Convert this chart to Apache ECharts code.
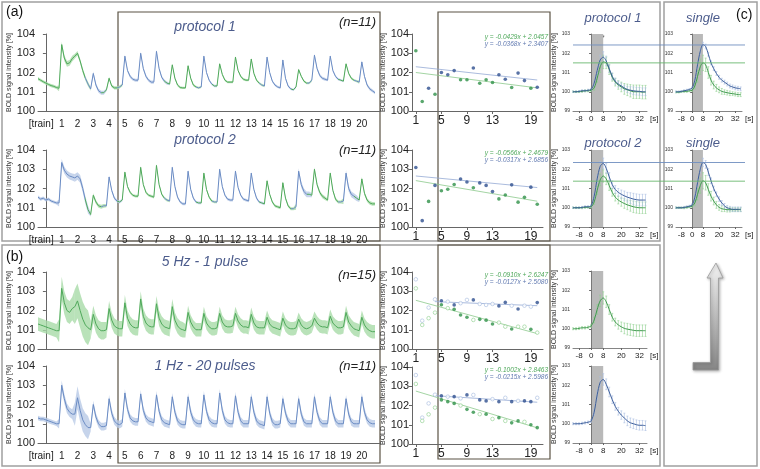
<!DOCTYPE html>
<html><head><meta charset="utf-8">
<script src="https://cdn.jsdelivr.net/npm/echarts@6/dist/echarts.min.js"></script>
<style>html,body{margin:0;padding:0;background:#fff}#c{width:760px;height:469px}</style>
</head><body><div id="c"></div>
<script>
// ---------------- DATA ----------------
const trainLabels = ['[train]','1','2','3','4','5','6','7','8','9','10','11','12','13','14','15','16','17','18','19','20'];
const trainLabelPos = [-0.3,1,2,3,4,5,6,7,8,9,10,11,12,13,14,15,16,17,18,19,20];
// rows: pre-baseline (8 samples), trains 1..20 (6 samples each: pre, peak, decay x4), tail (1 sample); samples every 1/6 train
const p1Mean = [
 [101.68,101.6,101.52,101.45,101.38,101.32,101.28,101.22],
 [101.18,103.45,102.75,102.45,102.5,102.72],
 [102.85,103.0,102.6,102.1,101.7,101.4],
 [101.15,101.95,101.35,101.05,100.95,100.95],
 [101.1,101.7,101.3,101.2,101.2,101.25],
 [101.35,102.85,102.1,101.8,101.65,101.6],
 [101.6,103.0,102.2,101.8,101.6,101.5],
 [101.5,103.1,102.2,101.75,101.55,101.45],
 [101.4,102.4,101.7,101.35,101.22,101.2],
 [101.2,102.35,101.7,101.35,101.25,101.2],
 [101.25,102.85,102.0,101.6,101.4,101.3],
 [101.3,102.45,101.9,101.6,101.5,101.5],
 [101.5,102.8,102.1,101.8,101.65,101.6],
 [101.6,102.7,101.95,101.6,101.45,101.35],
 [101.3,102.8,102.0,101.55,101.35,101.25],
 [101.2,102.65,101.7,101.3,101.15,101.1],
 [101.25,102.15,101.8,101.55,101.45,101.45],
 [101.6,102.9,102.2,101.85,101.7,101.65],
 [101.6,102.85,102.1,101.8,101.65,101.6],
 [101.55,102.45,101.95,101.7,101.6,101.55],
 [101.5,102.55,101.8,101.35,101.15,101.05],
 [100.95]
];
const p1Sem = [0.08,0.15,0.12,0.1,0.08,0.08,0.08,0.08,0.06,0.06,0.06,0.06,0.06,0.06,0.06,0.06,0.06,0.08,0.06,0.06,0.08,0.08];
const p1Colors = ['g','g','g','b','g','b','b','b','g','g','b','g','g','g','b','b','g','b','b','g','b','b'];

const p2Mean = [
 [101.55,101.45,101.5,101.4,101.45,101.35,101.3,101.25],
 [101.25,103.35,102.95,102.75,102.65,102.6],
 [102.55,102.65,102.5,102.0,101.4,100.9],
 [100.65,101.65,101.3,101.1,101.05,101.1],
 [101.1,102.6,101.9,101.5,101.35,101.3],
 [101.4,102.85,102.1,101.8,101.65,101.6],
 [101.6,103.1,102.2,101.8,101.65,101.6],
 [101.55,103.2,102.2,101.7,101.5,101.4],
 [101.35,103.1,102.1,101.55,101.3,101.2],
 [101.2,102.9,101.95,101.5,101.3,101.25],
 [101.25,102.8,101.95,101.55,101.35,101.3],
 [101.3,103.0,102.1,101.65,101.45,101.4],
 [101.4,102.9,102.05,101.65,101.45,101.4],
 [101.35,102.8,101.95,101.5,101.3,101.25],
 [101.2,102.4,101.7,101.3,101.1,101.05],
 [101.0,102.3,101.5,101.1,100.95,100.95],
 [101.05,102.9,102.2,101.85,101.7,101.7],
 [101.65,103.0,102.2,101.8,101.6,101.5],
 [101.4,102.8,101.9,101.45,101.3,101.3],
 [101.35,102.8,102.0,101.7,101.6,101.5],
 [101.4,102.5,101.75,101.4,101.25,101.2],
 [101.2]
];
const p2Sem = [0.08,0.18,0.2,0.1,0.08,0.07,0.07,0.07,0.07,0.07,0.07,0.07,0.07,0.07,0.07,0.08,0.15,0.1,0.08,0.15,0.1,0.08];
const p2Colors = ['b','b','b','g','b','g','g','g','b','b','g','b','b','b','g','g','b','g','g','b','g','g'];

const p3Mean = [
 [101.3,101.25,101.2,101.15,101.1,101.05,101.0,100.95],
 [100.95,103.15,102.4,102.0,101.9,102.1],
 [102.2,102.5,102.0,101.55,101.25,101.1],
 [101.0,101.8,101.3,101.05,100.95,100.95],
 [101.0,102.1,101.5,101.2,101.1,101.05],
 [101.05,102.4,101.6,101.3,101.15,101.1],
 [101.1,102.6,101.7,101.35,101.2,101.15],
 [101.15,102.35,101.6,101.3,101.15,101.1],
 [101.05,102.2,101.5,101.2,101.05,101.0],
 [100.95,101.9,101.4,101.15,101.0,101.0],
 [101.0,101.85,101.35,101.15,101.05,101.05],
 [101.1,101.85,101.4,101.2,101.15,101.15],
 [101.2,101.85,101.45,101.25,101.15,101.15],
 [101.1,101.8,101.35,101.15,101.1,101.1],
 [101.1,101.65,101.3,101.15,101.1,101.05],
 [101.0,101.6,101.25,101.1,101.05,101.05],
 [101.1,101.55,101.25,101.1,101.05,101.1],
 [101.2,101.6,101.35,101.2,101.15,101.15],
 [101.1,101.7,101.35,101.2,101.1,101.1],
 [101.15,101.9,101.4,101.2,101.05,101.0],
 [100.95,101.65,101.25,101.05,100.95,100.9],
 [100.9]
];
const p3Sem = [0.35,0.6,0.9,0.45,0.4,0.4,0.4,0.4,0.4,0.35,0.35,0.35,0.35,0.35,0.35,0.35,0.35,0.35,0.35,0.35,0.35,0.35];
const p3Colors = ['g','g','g','g','g','g','g','g','g','g','g','g','g','g','g','g','g','g','g','g','g','g'];

const p4Mean = [
 [101.3,101.25,101.25,101.2,101.15,101.1,101.05,101.0],
 [101.0,103.0,102.3,101.8,101.6,101.5],
 [101.5,102.35,101.7,101.2,100.95,100.8],
 [100.8,102.0,101.35,101.0,100.85,100.85],
 [100.9,102.3,101.55,101.15,101.0,100.95],
 [101.05,102.6,101.75,101.3,101.15,101.1],
 [101.1,102.55,101.7,101.3,101.15,101.1],
 [101.05,102.5,101.65,101.2,101.05,101.0],
 [100.95,102.4,101.6,101.15,101.0,100.95],
 [100.95,102.4,101.6,101.2,101.05,101.0],
 [101.0,102.5,101.65,101.2,101.05,101.0],
 [101.0,102.6,101.7,101.2,101.05,101.0],
 [101.0,102.45,101.6,101.15,101.0,101.0],
 [101.0,102.4,101.6,101.15,101.0,100.95],
 [100.9,102.4,101.55,101.1,100.95,100.95],
 [101.0,102.3,101.55,101.15,101.0,101.0],
 [101.0,102.3,101.5,101.1,101.0,101.0],
 [101.0,102.4,101.6,101.15,101.0,101.0],
 [101.0,102.4,101.6,101.15,101.0,101.0],
 [101.0,102.3,101.5,101.1,101.0,101.0],
 [101.0,102.4,101.6,101.2,101.05,101.0],
 [101.0]
];
const p4Sem = [0.12,0.25,0.6,0.2,0.2,0.2,0.2,0.2,0.2,0.2,0.2,0.2,0.2,0.2,0.2,0.2,0.2,0.2,0.2,0.2,0.2,0.2];
const p4Colors = ['b','b','b','b','b','b','b','b','b','b','b','b','b','b','b','b','b','b','b','b','b','b'];

// scatter (per train 1..20)
const scX = [1,2,3,4,5,6,7,8,9,10,11,12,13,14,15,16,17,18,19,20];
const scTicks = [1,5,9,13,19];
const s1Vals = [103.13,100.49,101.18,100.87,102.0,101.88,102.1,101.62,101.62,102.23,101.44,101.62,101.48,101.88,101.65,101.22,101.97,101.58,101.18,101.23];
const s1Cols = ['g','g','b','g','b','b','b','g','g','b','g','g','g','b','b','g','b','b','g','b'];
const s2Vals = [103.09,100.33,101.33,102.16,101.88,101.96,102.21,102.49,102.34,102.04,102.29,102.16,101.84,101.46,101.66,102.19,101.29,101.54,102.07,101.18];
const s2Cols = ['b','b','g','b','g','g','g','b','b','g','b','b','b','g','g','b','g','g','b','g'];
const s3Blue  = [103.62,101.47,102.15,102.58,102.51,102.46,102.29,102.38,102.55,102.55,102.34,102.29,102.34,102.24,102.42,102.25,102.08,102.25,102.2,102.41];
const s3BlueF = [0,0,0,0,1,0,1,0,0,1,0,0,0,1,1,0,1,0,0,1];
const s3Green = [103.15,101.25,101.6,101.89,102.3,102.12,102.06,101.77,101.65,101.51,101.54,101.5,101.3,101.37,101.16,101.04,101.16,101.16,101.02,100.85];
const s3GreenF= [0,0,0,0,1,0,1,1,1,0,1,1,1,0,0,1,0,0,1,0];
const s4Blue  = [103.58,101.37,102.11,102.56,102.5,102.46,102.46,102.37,102.55,102.55,102.29,102.24,102.33,102.2,102.4,102.2,102.24,102.24,102.2,102.4];
const s4BlueF = [0,0,0,0,1,0,1,0,1,0,1,1,0,1,0,1,0,1,1,0];
const s4Green = [103.12,101.2,101.54,101.89,102.29,102.2,102.11,102.0,101.8,101.65,101.55,101.55,101.3,101.37,101.2,101.1,101.2,101.15,101.0,100.85];
const s4GreenF= [0,0,0,0,1,1,1,0,1,1,0,1,0,1,0,1,1,0,1,1];
// regression lines: [x, y] endpoints from the printed equations
const s1GreenFit = [[1,102.00],[20,101.20]], s1BlueFit = [[1,102.30],[20,101.61]];
const s2GreenFit = [[1,102.41],[20,101.34]], s2BlueFit = [[1,102.65],[20,102.05]];
const s3GreenFit = [[1,102.53],[20,100.80]], s3BlueFit = [[4,102.46],[20,102.25]];
const s4GreenFit = [[1,102.75],[20,100.84]], s4BlueFit = [[4,102.51],[20,102.17]];
const eqs = [
 ['y = -0.0429x + 2.0457','y = -0.0368x + 2.3407'],
 ['y = -0.0566x + 2.4679','y = -0.0317x + 2.6856'],
 ['y = -0.0910x + 2.6247','y = -0.0127x + 2.5080'],
 ['y = -0.1002x + 2.8463','y = -0.0215x + 2.5986']
];

// block-average time courses [s]
const tcT = [-12,-10,-8,-6,-4,-2,0,2,4,6,8,10,12,14,16,18,20,22,24,26,28,30,32,34,36];
const tcTicks = [-8,0,8,20,32];
const pr1Blue  = [100.0,100.0,100.02,100.05,100.05,100.08,100.12,100.45,101.1,101.65,101.8,101.6,101.2,100.8,100.55,100.4,100.3,100.2,100.12,100.08,100.05,100.03,100.02,100.0,100.0];
const pr1BlueE = [0.04,0.04,0.04,0.05,0.05,0.05,0.06,0.12,0.2,0.25,0.28,0.25,0.2,0.18,0.15,0.15,0.15,0.15,0.16,0.18,0.2,0.2,0.2,0.2,0.2];
const pr1Green = [100.0,100.0,100.0,100.02,100.05,100.05,100.08,100.2,100.7,101.3,101.55,101.5,101.15,100.75,100.5,100.35,100.25,100.15,100.1,100.05,100.0,100.0,100.0,99.98,99.98];
const pr1GreenE= [0.04,0.04,0.04,0.05,0.05,0.05,0.06,0.12,0.2,0.3,0.35,0.3,0.25,0.2,0.2,0.22,0.25,0.28,0.3,0.32,0.35,0.35,0.35,0.35,0.35];
const pr2Blue  = [100.0,100.0,100.0,100.02,100.05,100.05,100.1,100.6,101.5,102.15,102.3,102.05,101.6,101.2,100.95,100.8,100.7,100.62,100.55,100.5,100.45,100.42,100.4,100.4,100.4];
const pr2BlueE = [0.04,0.04,0.04,0.05,0.05,0.05,0.06,0.12,0.2,0.25,0.28,0.25,0.22,0.2,0.2,0.2,0.22,0.25,0.25,0.28,0.3,0.3,0.3,0.3,0.3];
const pr2Green = [100.0,100.0,100.0,100.0,100.02,100.03,100.05,100.3,100.9,101.45,101.65,101.5,101.15,100.8,100.55,100.4,100.3,100.22,100.15,100.1,100.05,100.02,100.0,100.0,100.0];
const pr2GreenE= [0.04,0.04,0.04,0.05,0.05,0.05,0.06,0.12,0.2,0.3,0.32,0.3,0.25,0.2,0.2,0.2,0.22,0.25,0.25,0.28,0.3,0.3,0.3,0.3,0.3];
const sg1Blue  = [100.0,100.0,100.02,100.05,100.08,100.12,100.2,100.6,101.4,102.1,102.45,102.35,101.95,101.5,101.2,100.95,100.75,100.6,100.5,100.4,100.3,100.25,100.2,100.18,100.15];
const sg1BlueE = [0.04,0.04,0.04,0.05,0.05,0.05,0.06,0.1,0.15,0.15,0.12,0.12,0.1,0.1,0.1,0.1,0.1,0.1,0.1,0.1,0.1,0.1,0.1,0.1,0.1];
const sg1Green = [99.98,99.98,100.0,100.02,100.02,100.05,100.08,100.3,100.8,101.3,101.5,101.4,101.0,100.6,100.35,100.2,100.1,100.02,99.98,99.95,99.92,99.9,99.88,99.85,99.85];
const sg1GreenE= [0.04,0.04,0.04,0.05,0.05,0.05,0.06,0.15,0.3,0.4,0.4,0.35,0.3,0.25,0.2,0.18,0.15,0.15,0.12,0.12,0.12,0.1,0.1,0.1,0.1];
const sg2Blue  = [100.0,100.0,100.0,100.02,100.05,100.08,100.15,100.55,101.3,102.0,102.35,102.25,101.85,101.4,101.0,100.7,100.45,100.25,100.1,100.0,99.95,99.92,99.92,99.92,99.92];
const sg2BlueE = [0.04,0.04,0.04,0.05,0.05,0.05,0.06,0.1,0.15,0.2,0.22,0.2,0.18,0.15,0.12,0.12,0.12,0.12,0.12,0.12,0.12,0.12,0.12,0.12,0.12];
const sg2Green = [100.0,100.0,100.0,100.0,100.02,100.05,100.08,100.25,100.7,101.15,101.4,101.3,100.95,100.6,100.35,100.15,100.02,99.95,99.92,99.9,99.9,99.9,99.9,99.9,99.9];
const sg2GreenE= [0.04,0.04,0.04,0.05,0.05,0.05,0.06,0.15,0.3,0.4,0.42,0.38,0.3,0.25,0.2,0.18,0.15,0.15,0.12,0.12,0.12,0.1,0.1,0.1,0.1];
const hz5Green = [100.0,100.0,100.02,100.05,100.05,100.08,100.15,100.45,101.0,101.45,101.6,101.4,101.0,100.6,100.35,100.2,100.1,100.02,99.98,99.95,99.92,99.9,99.9,99.9,99.9];
const hz5GreenE= [0.05,0.05,0.06,0.06,0.06,0.06,0.08,0.15,0.25,0.3,0.32,0.3,0.25,0.2,0.2,0.22,0.25,0.28,0.3,0.3,0.3,0.3,0.3,0.3,0.3];
const hz1Blue  = [100.0,100.0,100.0,100.02,100.05,100.08,100.15,100.6,101.5,102.15,102.3,102.05,101.65,101.25,100.9,100.65,100.45,100.3,100.15,100.05,100.0,99.95,99.92,99.92,99.9];
const hz1BlueE = [0.05,0.05,0.05,0.06,0.06,0.06,0.08,0.15,0.25,0.3,0.3,0.28,0.25,0.2,0.2,0.2,0.22,0.25,0.25,0.25,0.25,0.25,0.25,0.25,0.25];
// horizontal reference levels (peaks of the "single" responses)
const refRow1 = {blue:102.43, green:101.5};
const refRow2 = {blue:102.35, green:101.38};

// ---------------- STYLE ----------------
const GREEN='#4ea85a', BLUE='#6a8bc3';
const GREEN_D='#2f9148', BLUE_D='#2e4f8f';
const GREEN_L='#8fd08f', BLUE_L='#a9bde0';
const GREEN_B='#a8dba8', BLUE_B='#b8c9e6';
const FONT='Liberation Sans, Arial, sans-serif';
const COL = {g:GREEN, b:BLUE}, BAND = {g:GREEN_B, b:BLUE_B};

const grids=[], xAxes=[], yAxes=[], series=[], visualMaps=[], graphics=[];
function addGrid(g){grids.push(g);return grids.length-1;}

// ---- time series plots ----
const tsDefs = [
 {top:34, mean:p1Mean, sem:p1Sem, colors:p1Colors, labels:true},
 {top:150, mean:p2Mean, sem:p2Sem, colors:p2Colors, labels:true},
 {top:272, mean:p3Mean, sem:p3Sem, colors:p3Colors, labels:false},
 {top:366, mean:p4Mean, sem:p4Sem, colors:p4Colors, labels:true}
];
tsDefs.forEach((d,i)=>{
  const g = addGrid({left:38, top:d.top, width:342, height:77});
  xAxes.push({gridIndex:g, type:'value', min:-0.5, max:21.15,
    axisLine:{show:true,onZero:false,lineStyle:{color:'#666',width:1}}, axisTick:{show:false}, splitLine:{show:false},
    axisLabel:{show:d.labels, customValues:trainLabelPos, formatter:(v)=>trainLabels[trainLabelPos.indexOf(v)], fontSize:10, color:'#222', fontFamily:FONT, margin:8}});
  yAxes.push({gridIndex:g, type:'value', min:100, max:104, interval:1,
    axisLine:{show:true,lineStyle:{color:'#666'}}, axisTick:{show:true,length:3,lineStyle:{color:'#666'}}, splitLine:{show:false},
    axisLabel:{fontSize:11, color:'#222', fontFamily:FONT, margin:3},
    name:'BOLD signal intensity [%]', nameLocation:'middle', nameGap:24, nameTextStyle:{fontSize:7,color:'#333',fontFamily:FONT}});
  const ax = xAxes.length-1;
  const xs=[], ys=[], lo=[], hi=[], rowStart=[], rowLen=[]; let k=0;
  d.mean.forEach((row,r)=>{rowStart.push(k); rowLen.push(row.length); row.forEach(v=>{xs.push(-0.5+k/6); ys.push(v); lo.push(v-d.sem[r]); hi.push(v+d.sem[r]); k++;});});
  const N = xs.length;
  series.push({type:'custom', xAxisIndex:ax, yAxisIndex:ax, silent:true, z:1,
    data: d.mean.map((row,r)=>[xs[rowStart[r]], ys[rowStart[r]], r]), encode:{x:0,y:1},
    renderItem:(p,api)=>{
      const r=api.value(2), s=rowStart[r], e=Math.min(s+rowLen[r], N-1);
      const up=[], dn=[];
      for(let j=s;j<=e;j++){up.push(api.coord([xs[j],hi[j]])); dn.push(api.coord([xs[j],lo[j]]));}
      return {type:'polygon', shape:{points:up.concat(dn.reverse())}, style:{fill:BAND[d.colors[r]], opacity:0.8}};
    }});
  const meanIdx = series.length;
  series.push({type:'line', xAxisIndex:ax, yAxisIndex:ax, data:xs.map((x,j)=>[x,ys[j]]), symbol:'none', lineStyle:{width:1}, z:3});
  const pieces=[{lt:0.5,color:COL[d.colors[0]]}];
  for(let t=1;t<=20;t++){pieces.push(t<20?{gte:t-0.5,lt:t+0.5,color:COL[d.colors[t]]}:{gte:t-0.5,color:COL[d.colors[t]]});}
  visualMaps.push({type:'piecewise', show:false, dimension:0, seriesIndex:meanIdx, pieces});
});

// ---- scatter plots ----
const scDefs = [
 {top:34, kind:'single', vals:s1Vals, cols:s1Cols, gFit:s1GreenFit, bFit:s1BlueFit, eq:eqs[0]},
 {top:150, kind:'single', vals:s2Vals, cols:s2Cols, gFit:s2GreenFit, bFit:s2BlueFit, eq:eqs[1]},
 {top:272, kind:'double', b:s3Blue, bf:s3BlueF, g:s3Green, gf:s3GreenF, gFit:s3GreenFit, bFit:s3BlueFit, eq:eqs[2]},
 {top:367, kind:'double', b:s4Blue, bf:s4BlueF, g:s4Green, gf:s4GreenF, gFit:s4GreenFit, bFit:s4BlueFit, eq:eqs[3]}
];
scDefs.forEach((d,i)=>{
  const g = addGrid({left:412, top:d.top, width:131, height:77});
  xAxes.push({gridIndex:g, type:'value', min:0.4, max:20.9,
    axisLine:{show:true,onZero:false,lineStyle:{color:'#666'}}, axisTick:{show:true,customValues:scTicks,length:3,lineStyle:{color:'#666'}}, splitLine:{show:false},
    axisLabel:{customValues:scTicks, fontSize:12, color:'#222', fontFamily:FONT, margin:4}});
  yAxes.push({gridIndex:g, type:'value', min:100, max:104, interval:1,
    axisLine:{show:true,lineStyle:{color:'#666'}}, axisTick:{show:true,length:3,lineStyle:{color:'#666'}}, splitLine:{show:false},
    axisLabel:{fontSize:11, color:'#222', fontFamily:FONT, margin:3},
    name:'BOLD signal intensity [%]', nameLocation:'middle', nameGap:23, nameTextStyle:{fontSize:7,color:'#333',fontFamily:FONT}});
  const ax = xAxes.length-1;
  series.push({type:'line', xAxisIndex:ax, yAxisIndex:ax, data:d.gFit, symbol:'none', lineStyle:{width:0.8,color:'#8cc98c'}, z:2});
  series.push({type:'line', xAxisIndex:ax, yAxisIndex:ax, data:d.bFit, symbol:'none', lineStyle:{width:0.8,color:'#94a9d4'}, z:2});
  const mk=(x,v,col,filled)=>({value:[x,v], itemStyle: filled?{color:col==='g'?GREEN_D:BLUE_D}:{color:'#fff',borderColor:col==='g'?GREEN_L:BLUE_L,borderWidth:0.8}});
  let data=[];
  if(d.kind==='single'){ data = scX.map((x,j)=>mk(x,d.vals[j],d.cols[j],true)); }
  else { data = scX.map((x,j)=>mk(x,d.b[j],'b',d.bf[j])).concat(scX.map((x,j)=>mk(x,d.g[j],'g',d.gf[j]))); }
  series.push({type:'scatter', xAxisIndex:ax, yAxisIndex:ax, data, symbolSize:3.6, z:4});
  graphics.push({type:'text', x:548, y:d.top+0, style:{text:d.eq[0], fill:'#4ea85a', font:'italic 6.5px '+FONT, textAlign:'right'}});
  graphics.push({type:'text', x:548, y:d.top+7, style:{text:d.eq[1], fill:'#6079b0', font:'italic 6.5px '+FONT, textAlign:'right'}});
});

// ---- small time course plots ----
function errSeries(ax, t, v, e, col){
  return {type:'custom', xAxisIndex:ax, yAxisIndex:ax, data:t.map((x,j)=>[x,v[j]-e[j],v[j]+e[j]]), encode:{x:0,y:[1,2]}, z:2, silent:true,
    renderItem:(p,api)=>{const a=api.coord([api.value(0),api.value(1)]), b=api.coord([api.value(0),api.value(2)]);
      return {type:'group',children:[
        {type:'line',shape:{x1:a[0],y1:a[1],x2:b[0],y2:b[1]},style:{stroke:col,lineWidth:0.6}},
        {type:'line',shape:{x1:a[0]-1,y1:a[1],x2:a[0]+1,y2:a[1]},style:{stroke:col,lineWidth:0.6}},
        {type:'line',shape:{x1:b[0]-1,y1:b[1],x2:b[0]+1,y2:b[1]},style:{stroke:col,lineWidth:0.6}}]};}};
}
const tcDefs = [
 {left:573, width:74, top:34, name:true, lines:[[pr1Green,pr1GreenE,'g'],[pr1Blue,pr1BlueE,'b']]},
 {left:573, width:74, top:150, name:true, lines:[[pr2Green,pr2GreenE,'g'],[pr2Blue,pr2BlueE,'b']]},
 {left:573, width:74, top:271, name:true, lines:[[hz5Green,hz5GreenE,'g']]},
 {left:573, width:74, top:366, name:true, lines:[[hz1Blue,hz1BlueE,'b']]},
 {left:676, width:66, top:34, name:false, lines:[[sg1Green,sg1GreenE,'g'],[sg1Blue,sg1BlueE,'b']]},
 {left:676, width:66, top:150, name:false, lines:[[sg2Green,sg2GreenE,'g'],[sg2Blue,sg2BlueE,'b']]}
];
tcDefs.forEach((d,i)=>{
  const g = addGrid({left:d.left, top:d.top, width:d.width, height:77});
  xAxes.push({gridIndex:g, type:'value', min:-12, max:37,
    axisLine:{show:true,onZero:false,lineStyle:{color:'#666',width:0.8}}, axisTick:{show:true,customValues:tcTicks,length:2,lineStyle:{color:'#666'}}, splitLine:{show:false},
    axisLabel:{customValues:tcTicks, fontSize:8, color:'#222', fontFamily:FONT, margin:4},
    name:'[s]', nameLocation:'end', nameGap:3, nameTextStyle:{fontSize:8,color:'#222',fontFamily:FONT,verticalAlign:'top',padding:[4,0,0,0]}});
  yAxes.push({gridIndex:g, type:'value', min:99, max:103, interval:1,
    axisLine:{show:true,lineStyle:{color:'#666',width:0.8}}, axisTick:{show:true,length:2,lineStyle:{color:'#666'}}, splitLine:{show:false},
    axisLabel:{fontSize:5, color:'#333', fontFamily:FONT, margin:3},
    name:d.name?'BOLD signal intensity [%]':'', nameLocation:'middle', nameGap:13, nameTextStyle:{fontSize:7,color:'#333',fontFamily:FONT}});
  const ax = xAxes.length-1;
  d.lines.forEach((L,j)=>{
    const lcol = L[2]==='g'?GREEN_L:BLUE_L;
    series.push(errSeries(ax, tcT, L[0], L[1], lcol));
    const s = {type:'line', xAxisIndex:ax, yAxisIndex:ax, data:tcT.map((x,k)=>[x,L[0][k]]), symbol:'none', smooth:0.3, lineStyle:{width:1,color:L[2]==='g'?'#3f9a4e':'#3d5f9c'}, z:3};
    if(j===0) s.markArea = {silent:true, itemStyle:{color:'#b9b9b9'}, data:[[{xAxis:0},{xAxis:8}]], z:0};
    series.push(s);
  });
});
// reference levels overlay (spanning protocol and single plots)
[[34,refRow1],[150,refRow2]].forEach(([top,ref])=>{
  const g = addGrid({left:573, top, width:172, height:77});
  xAxes.push({gridIndex:g, type:'value', min:0, max:1, show:false});
  yAxes.push({gridIndex:g, type:'value', min:99, max:103, show:false});
  const ax = xAxes.length-1;
  series.push({type:'line', xAxisIndex:ax, yAxisIndex:ax, data:[[0,ref.blue],[1,ref.blue]], symbol:'none', lineStyle:{width:0.9,color:'#6f8fc0'}, z:5, silent:true});
  series.push({type:'line', xAxisIndex:ax, yAxisIndex:ax, data:[[0,ref.green],[1,ref.green]], symbol:'none', lineStyle:{width:0.9,color:'#6ab86f'}, z:5, silent:true});
});

// ---- frames, titles, arrow ----
const frame=(x,y,w,h,c,lw)=>({type:'rect', shape:{x,y,width:w,height:h}, style:{fill:'none',stroke:c,lineWidth:lw}, z:-1});
graphics.push(frame(2,2,658,239,'#a0a0a0',1.5));
graphics.push(frame(2,245,658,221,'#a0a0a0',1.5));
graphics.push(frame(664,2,93,464,'#a0a0a0',1.5));
graphics.push(frame(118,12,262,229,'#5b5344',1.2));
graphics.push(frame(438,12,112,229,'#5b5344',1.2));
graphics.push(frame(118,245,262,218,'#5b5344',1.2));
graphics.push(frame(438,245,112,214,'#5b5344',1.2));
const txt=(text,x,y,size,fill,opt={})=>({type:'text', x, y, style:{text, fill, font:(opt.italic?'italic ':'')+size+'px '+FONT, textAlign:opt.align||'left', textVerticalAlign:'middle'}});
graphics.push(txt('(a)',6,12,14,'#111'));
graphics.push(txt('(b)',6,257,14,'#111'));
graphics.push(txt('(c)',736,15,14,'#111'));
graphics.push(txt('protocol 1',205,27,14,'#4c5c8c',{italic:true,align:'center'}));
graphics.push(txt('(n=11)',376,22,13,'#222',{italic:true,align:'right'}));
graphics.push(txt('protocol 2',205,140,14,'#4c5c8c',{italic:true,align:'center'}));
graphics.push(txt('(n=11)',376,150,13,'#222',{italic:true,align:'right'}));
graphics.push(txt('5 Hz - 1 pulse',205,262,14,'#4c5c8c',{italic:true,align:'center'}));
graphics.push(txt('(n=15)',376,275,13,'#222',{italic:true,align:'right'}));
graphics.push(txt('1 Hz - 20 pulses',205,366,14,'#4c5c8c',{italic:true,align:'center'}));
graphics.push(txt('(n=11)',376,366,13,'#222',{italic:true,align:'right'}));
graphics.push(txt('protocol 1',613,18,13,'#4c5c8c',{italic:true,align:'center'}));
graphics.push(txt('single',703,18,13,'#4c5c8c',{italic:true,align:'center'}));
graphics.push(txt('protocol 2',613,143,13,'#4c5c8c',{italic:true,align:'center'}));
graphics.push(txt('single',703,143,13,'#4c5c8c',{italic:true,align:'center'}));
graphics.push(txt('*',603,38,8,'#333',{align:'center'}));
graphics.push({type:'polygon', shape:{points:[[716,263],[723,278],[718.5,278],[718.5,370],[693,370],[693,362.5],[710.5,362.5],[710.5,278],[707,278]]},
  style:{fill:new echarts.graphic.LinearGradient(0,0,0,1,[{offset:0,color:'#f2f2f2'},{offset:1,color:'#858585'}]), stroke:'#9a9a9a', lineWidth:0.8, shadowBlur:3, shadowColor:'rgba(0,0,0,0.3)', shadowOffsetX:1, shadowOffsetY:1}, z:10});

const chart = echarts.init(document.getElementById('c'), null, {renderer:'canvas'});
chart.setOption({animation:false, backgroundColor:'#fff', grid:grids, xAxis:xAxes, yAxis:yAxes, series, visualMap:visualMaps, graphic:{elements:graphics}});
</script></body></html>
